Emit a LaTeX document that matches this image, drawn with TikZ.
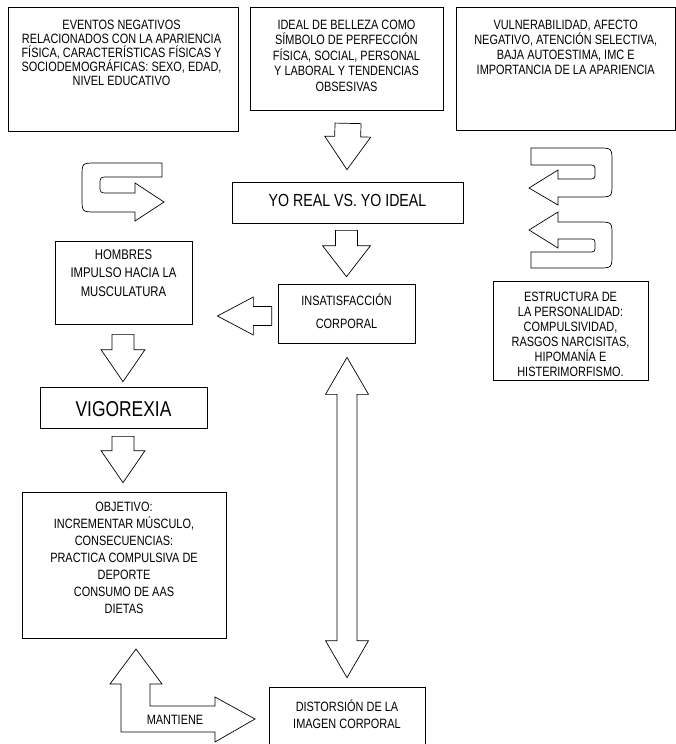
\documentclass[tikz,border=0pt]{standalone}
\usepackage{fontspec}
\setmainfont[FakeStretch=0.81]{Liberation Sans}
\usetikzlibrary{positioning,calc}

% block arrow: from, to, half shaft, half head, head length
\newcommand\fatarrow[5]{%
  \coordinate (fa-h) at ($(#2)!#5!(#1)$);
  \draw[blockline] ($(#1)!#3!90:(#2)$) -- ($(fa-h)!#3!90:(#2)$) -- ($(fa-h)!#4!90:(#2)$)
    -- (#2) -- ($(fa-h)!#4!-90:(#2)$) -- ($(fa-h)!#3!-90:(#2)$) -- ($(#1)!#3!-90:(#2)$) -- cycle;}
\newcommand\fatdouble[5]{%
  \coordinate (fd-a) at ($(#1)!#5!(#2)$);
  \coordinate (fd-b) at ($(#2)!#5!(#1)$);
  \draw[blockline] (#1) -- ($(fd-a)!#4!90:(#2)$) -- ($(fd-a)!#3!90:(#2)$)
    -- ($(fd-b)!#3!-90:(#1)$) -- ($(fd-b)!#4!-90:(#1)$) -- (#2)
    -- ($(fd-b)!#4!90:(#1)$) -- ($(fd-b)!#3!90:(#1)$)
    -- ($(fd-a)!#3!-90:(#2)$) -- ($(fd-a)!#4!-90:(#2)$) -- cycle;}

\begin{document}
\begin{tikzpicture}[x=1pt, y=-1pt,
  box/.style={draw, line width=0.7pt, inner sep=0pt},
  boxtext/.style={align=center, inner sep=0pt, font=\fontsize{13.5}{15}\selectfont},
  blockline/.style={draw, line width=0.7pt, line join=miter}]
  \useasboundingbox (0,0) rectangle (676,744);

  \node[box, minimum width=230pt, minimum height=124pt] (eventos) at (123,69) {};
  \node[boxtext, font=\fontsize{13.5}{14}\selectfont, below=13pt of eventos.north, xshift=-1.5pt] (eventos-t)
    {EVENTOS NEGATIVOS\\RELACIONADOS CON LA APARIENCIA\\FÍSICA, CARACTERÍSTICAS FÍSICAS Y\\SOCIODEMOGRÁFICAS: SEXO, EDAD,\\NIVEL EDUCATIVO};

  \node[box, minimum width=193pt, minimum height=103pt] (ideal) at (346.5,58.5) {};
  \node[boxtext, font=\fontsize{13.5}{15.5}\selectfont, below=13pt of ideal.north] (ideal-t)
    {IDEAL DE BELLEZA COMO\\SÍMBOLO DE PERFECCIÓN\\FÍSICA, SOCIAL, PERSONAL\\Y LABORAL Y TENDENCIAS\\OBSESIVAS};

  \node[box, minimum width=219.5pt, minimum height=123pt] (vuln) at (565.75,68.5) {};
  \node[boxtext, below=13pt of vuln.north] (vuln-t)
    {VULNERABILIDAD, AFECTO\\NEGATIVO, ATENCIÓN SELECTIVA,\\BAJA AUTOESTIMA, IMC E\\IMPORTANCIA DE LA APARIENCIA};

  \node[box, minimum width=231pt, minimum height=41pt] (yoreal) at (347.5,202.5) {};
  \node[boxtext, font=\fontsize{17.5}{20}\selectfont] (yoreal-t) at (347.5,200) {YO REAL VS. YO IDEAL};

  \node[box, minimum width=137pt, minimum height=83pt] (hombres) at (123.5,282.5) {};
  \node[boxtext, font=\fontsize{14}{18.3}\selectfont, below=9pt of hombres.north] (hombres-t)
    {HOMBRES\\IMPULSO HACIA LA\\MUSCULATURA};

  \node[box, minimum width=137pt, minimum height=59pt] (insat) at (346.5,313.5) {};
  \node[boxtext, font=\fontsize{13.5}{23}\selectfont, below=10pt of insat.north] (insat-t)
    {INSATISFACCIÓN\\CORPORAL};

  \node[box, minimum width=155pt, minimum height=99pt] (estructura) at (570.5,330.5) {};
  \node[boxtext, font=\fontsize{13.5}{15}\selectfont, below=11pt of estructura.north] (estructura-t)
    {ESTRUCTURA DE\\LA PERSONALIDAD:\\COMPULSIVIDAD,\\RASGOS NARCISITAS,\\HIPOMANÍA E\\HISTERIMORFISMO.};

  \node[box, minimum width=167pt, minimum height=41pt] (vigorexia) at (123.5,407.5) {};
  \node[boxtext, font=\fontsize{21.5}{24}\selectfont] (vigorexia-t) at (123.5,409) {VIGOREXIA};

  \node[box, minimum width=204pt, minimum height=146pt] (objetivo) at (124,565) {};
  \node[boxtext, font=\fontsize{13.5}{17}\selectfont, below=10pt of objetivo.north] (objetivo-t)
    {OBJETIVO:\\INCREMENTAR MÚSCULO,\\CONSECUENCIAS:\\PRACTICA COMPULSIVA DE\\DEPORTE\\CONSUMO DE AAS\\DIETAS};

  \node[box, minimum width=156pt, minimum height=60pt] (distorsion) at (347,717) {};
  \node[boxtext, font=\fontsize{13.5}{17}\selectfont, below=13pt of distorsion.north] (distorsion-t)
    {DISTORSIÓN DE LA\\IMAGEN CORPORAL};

  \coordinate (a1) at ($(ideal.south)+(1.5,13)$);
  \coordinate (b1) at ($(yoreal.north)+(-0.5,-12)$);
  \fatarrow{a1}{b1}{13pt}{23pt}{33pt}
  \coordinate (a2) at ($(yoreal.south)+(-1,7)$);
  \coordinate (b2) at ($(insat.north)+(0,-7)$);
  \fatarrow{a2}{b2}{11pt}{24pt}{31pt}
  \coordinate (a3) at ($(hombres.south)+(-0.5,10)$);
  \coordinate (b3) at ($(vigorexia.north)+(-0.5,-5)$);
  \fatarrow{a3}{b3}{11pt}{22pt}{32pt}
  \coordinate (a4) at ($(vigorexia.south)+(-0.5,8)$);
  \coordinate (b4) at ($(objetivo.north)+(-1,-9)$);
  \fatarrow{a4}{b4}{11pt}{22pt}{32pt}
  \coordinate (a5) at ($(insat.west)+(-6,2.5)$);
  \coordinate (b5) at ($(hombres.east)+(25,33.5)$);
  \fatarrow{a5}{b5}{9.5pt}{19pt}{36pt}
  \coordinate (a6) at ($(insat.south)+(0.5,14)$);
  \coordinate (b6) at ($(distorsion.north)+(0,-9)$);
  \fatdouble{a6}{b6}{10pt}{21.5pt}{37pt}

  % u-turn arrows
  \draw[blockline] (162,163) -- (96,163) .. controls (82,163) .. (82,177) -- (82,198)
    .. controls (82,212) .. (96,212) -- (135,212) -- (135,221) -- (164,202) -- (135,183)
    -- (135,193) -- (108,193) .. controls (100,193) .. (100,185) .. controls (100,177) .. (108,177)
    -- (162,177) -- cycle;
  \draw[blockline] (531,148) -- (598,148) .. controls (612,148) .. (612,162) -- (612,183)
    .. controls (612,197) .. (598,197) -- (558,197) -- (558,205) -- (529,188) -- (558,170)
    -- (558,179) -- (588,179) .. controls (595,179) .. (595,172) .. controls (595,165) .. (588,165)
    -- (531,165) -- cycle;
  \draw[blockline] (529,230) -- (558,212) -- (558,222) -- (598,222) .. controls (612,222) .. (612,236)
    -- (612,254) .. controls (612,268) .. (598,268) -- (531,268) -- (531,252) -- (588,252)
    .. controls (595,252) .. (595,245.5) .. controls (595,239) .. (588,239) -- (558,239)
    -- (558,248) -- cycle;

  \draw[blockline] (136,649) -- (162,684) -- (150,684) -- (150,706) -- (215,706) -- (215,697)
    -- (255,719) -- (215,742) -- (215,732) -- (121,732) -- (121,684) -- (110,684) -- cycle;
  \node[boxtext] (mantiene) at (175,720) {MANTIENE};
\end{tikzpicture}
\end{document}
